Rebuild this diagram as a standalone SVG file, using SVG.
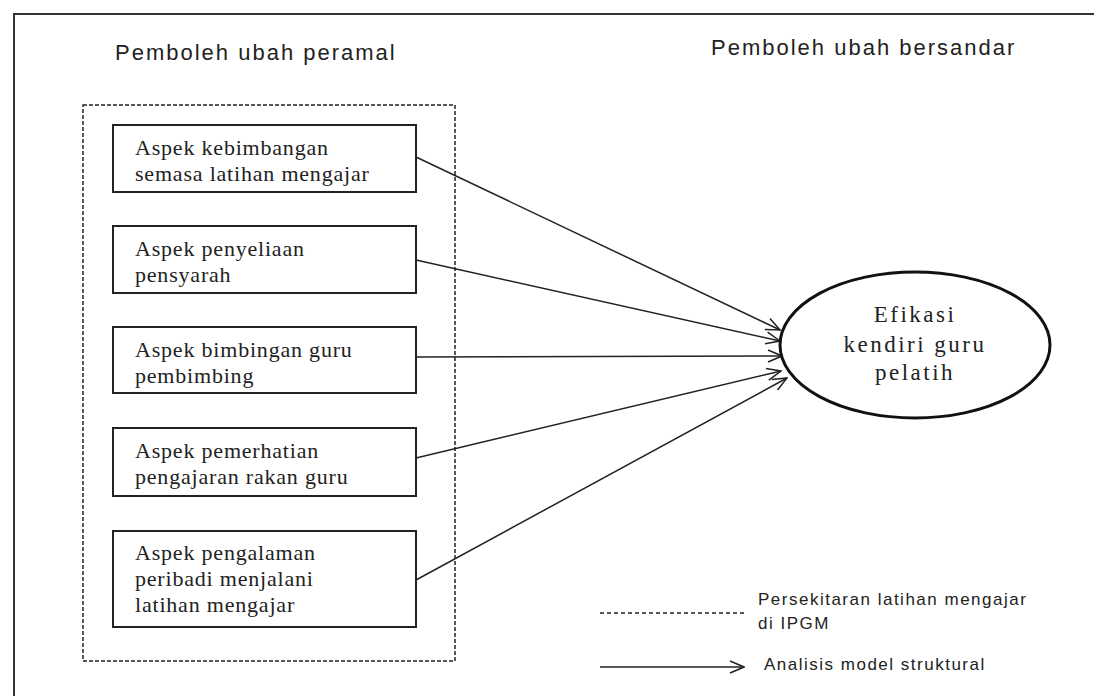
<svg xmlns="http://www.w3.org/2000/svg" width="1094" height="696" viewBox="0 0 1094 696">
<style>
.box{fill:#fff;stroke:#222;stroke-width:2}
.bt{font-family:"Liberation Serif",serif;font-size:22px;fill:#222;letter-spacing:0.8px}
.title{font-family:"Liberation Sans",sans-serif;font-size:22px;fill:#222;letter-spacing:2px}
.leg{font-family:"Liberation Sans",sans-serif;font-size:17px;fill:#222;letter-spacing:1.5px}
.conn{stroke:#222;stroke-width:1.5;fill:none;marker-end:url(#ah)}
.et{font-family:"Liberation Serif",serif;font-size:23px;fill:#222;letter-spacing:2.5px;text-anchor:middle}
</style>
<defs>
<marker id="ah" viewBox="0 0 16 14" refX="15" refY="7" markerWidth="16" markerHeight="14" markerUnits="userSpaceOnUse" orient="auto">
<path d="M1 1 L15 7 L1 13" fill="none" stroke="#222" stroke-width="1.5"/>
</marker>
</defs>
<rect width="1094" height="696" fill="#fff"/>
<path d="M14 696 V14 H1094" fill="none" stroke="#333" stroke-width="2"/>
<g id="titles">
<text class="title" x="115" y="60">Pemboleh ubah peramal</text>
<text class="title" x="711" y="55">Pemboleh ubah bersandar</text>
</g>
<g id="environment">
<rect x="83" y="105" width="372" height="556" fill="none" stroke="#222" stroke-width="1.5" stroke-dasharray="4 2"/>
</g>
<g id="connectors">
<line class="conn" x1="416" y1="157" x2="780" y2="330"/>
<line class="conn" x1="416" y1="260" x2="780" y2="341"/>
<line class="conn" x1="416" y1="357" x2="782" y2="356"/>
<line class="conn" x1="416" y1="458" x2="781" y2="371"/>
<line class="conn" x1="416" y1="580" x2="787" y2="378"/>
</g>
<g id="n1">
<rect class="box" x="113" y="125" width="303" height="67"/>
<text class="bt" x="135" y="155">Aspek kebimbangan</text>
<text class="bt" x="135" y="181">semasa latihan mengajar</text>
</g>
<g id="n2">
<rect class="box" x="113" y="226" width="303" height="67"/>
<text class="bt" x="135" y="256">Aspek penyeliaan</text>
<text class="bt" x="135" y="282">pensyarah</text>
</g>
<g id="n3">
<rect class="box" x="113" y="327" width="303" height="66"/>
<text class="bt" x="135" y="357">Aspek bimbingan guru</text>
<text class="bt" x="135" y="383">pembimbing</text>
</g>
<g id="n4">
<rect class="box" x="113" y="428" width="303" height="68"/>
<text class="bt" x="135" y="458">Aspek pemerhatian</text>
<text class="bt" x="135" y="484">pengajaran rakan guru</text>
</g>
<g id="n5">
<rect class="box" x="113" y="531" width="303" height="96"/>
<text class="bt" x="135" y="560">Aspek pengalaman</text>
<text class="bt" x="135" y="586">peribadi menjalani</text>
<text class="bt" x="135" y="612">latihan mengajar</text>
</g>
<g id="target">
<ellipse cx="915" cy="345" rx="135" ry="73" fill="#fff" stroke="#111" stroke-width="3"/>
<text class="et" x="915" y="322">Efikasi</text>
<text class="et" x="915" y="352">kendiri guru</text>
<text class="et" x="915" y="380">pelatih</text>
</g>
<g id="legend">
<line x1="600" y1="613" x2="745" y2="613" stroke="#222" stroke-width="1.5" stroke-dasharray="4 3"/>
<text class="leg" x="758" y="605">Persekitaran latihan mengajar</text>
<text class="leg" x="758" y="629">di IPGM</text>
<line class="conn" x1="600" y1="667" x2="744" y2="667"/>
<text class="leg" x="764" y="670">Analisis model struktural</text>
</g>
</svg>
